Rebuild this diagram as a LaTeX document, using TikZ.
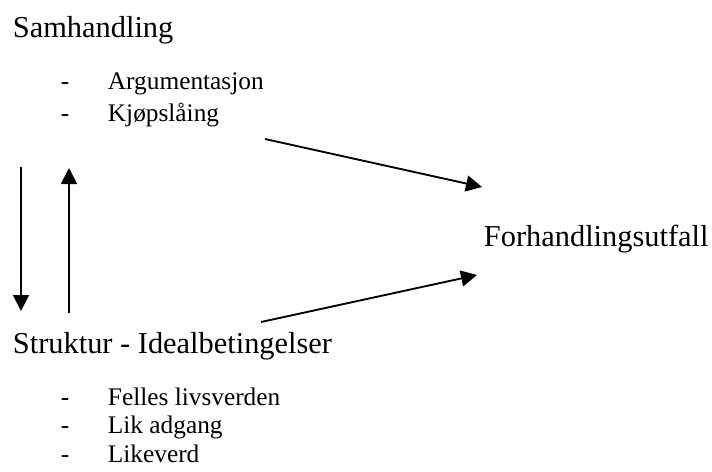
\documentclass[tikz,border=0pt]{standalone}
\usepackage{fontspec}
\setmainfont{Liberation Serif}
\usetikzlibrary{arrows.meta}

\newcommand{\punkt}[1]{\makebox[35.25pt][l]{-}#1}

\begin{document}
\begin{tikzpicture}[x=0.75pt,y=-0.75pt,line width=1.4pt,
            >={Triangle[length=12pt,width=12pt]},
            main node/.style={anchor=base west,inner sep=0pt,font=\fontsize{22.8}{27}\selectfont},
            item node/.style={anchor=base west,inner sep=0pt,font=\fontsize{19}{23}\selectfont}]

        \useasboundingbox (0,0) rectangle (712,471);

        % Define vertices
        \node[main node] (sam) at (12,37) {Samhandling};
        \node[item node] (arg) at (60,89) {\punkt{Argumentasjon}};
        \node[item node] (kjop) at (60,121) {\punkt{Kjøpslåing}};

        \node[main node] (utfall) at (483,246) {Forhandlingsutfall};

        \node[main node] (struk) at (12,353) {Struktur - Idealbetingelser};
        \node[item node] (felles) at (60,405) {\punkt{Felles livsverden}};
        \node[item node] (lik) at (60,433) {\punkt{Lik adgang}};
        \node[item node] (verd) at (60,462) {\punkt{Likeverd}};

        % Arrow ends
        \coordinate (samut) at (265,139);
        \coordinate (samin) at (482,187);
        \coordinate (strukut) at (261,322);
        \coordinate (strukin) at (477,275);
        \coordinate (nedtopp) at (21,167);
        \coordinate (nedbunn) at (21,311);
        \coordinate (opptopp) at (69,168);
        \coordinate (oppbunn) at (69,313);

        % Draw edges
        \draw[->] (samut) -- (samin);
        \draw[->] (strukut) -- (strukin);
        \draw[->] (nedtopp) -- (nedbunn);
        \draw[->] (oppbunn) -- (opptopp);

\end{tikzpicture}
\end{document}
